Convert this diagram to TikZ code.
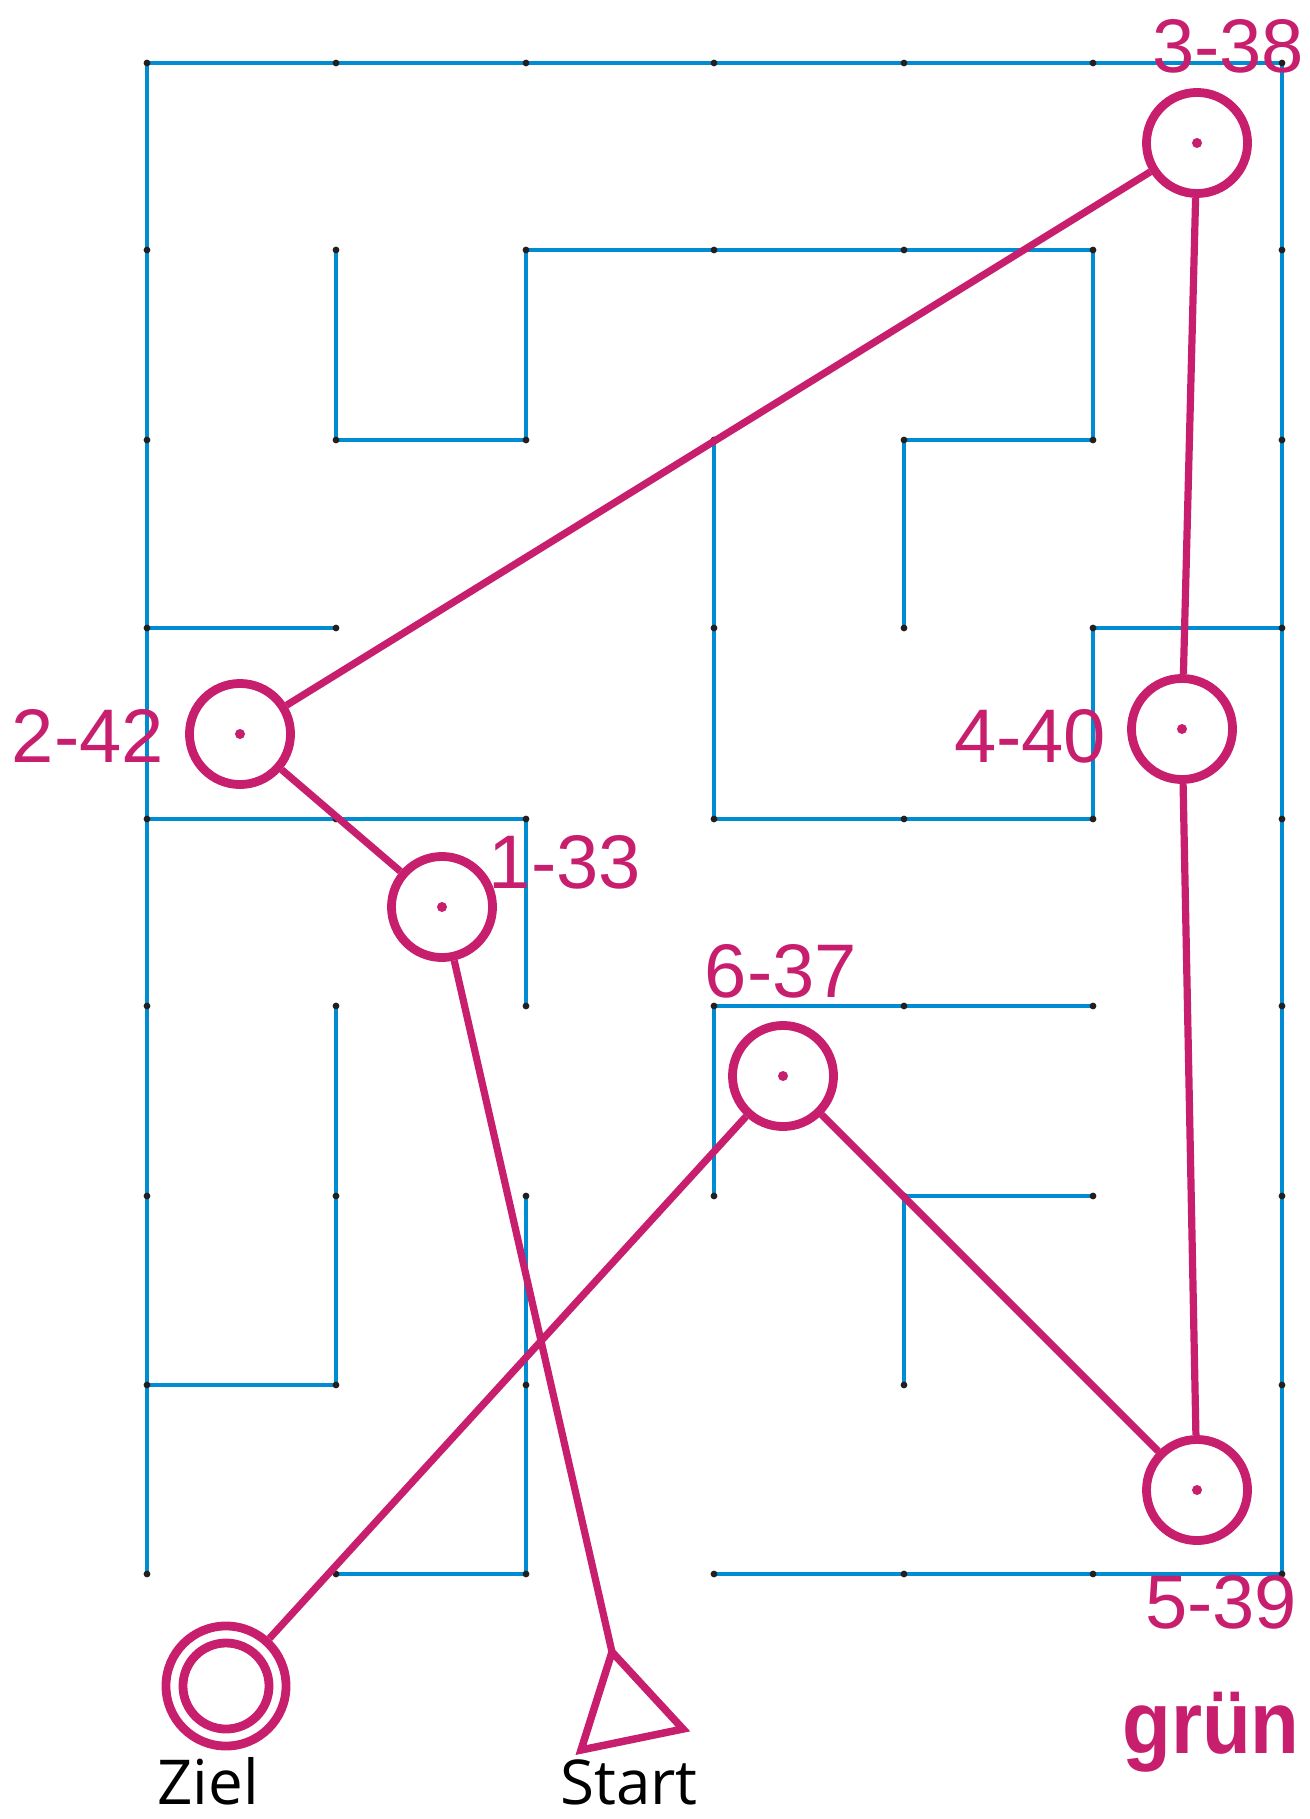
\documentclass[tikz,border=0pt]{standalone}
\usepackage{fontspec}
\usepackage{graphicx}
\newfontfamily\arialf{Liberation Sans}
\newfontfamily\opensf{Open Sans}
\definecolor{pk}{RGB}{200,30,110}
\definecolor{wb}{RGB}{0,140,210}
\definecolor{dotc}{RGB}{35,31,32}
\tikzset{
  wall/.style={draw=wb, line width=0.9pt, line cap=round},
  gdot/.style={fill=dotc},
  ring/.style={circle, draw=pk, line width=0.088cm, minimum size=1.01cm, inner sep=0pt},
  route/.style={draw=pk, line width=0.072cm},
  lab/.style={text=pk, font={\arialf\fontsize{21.6}{26}\selectfont}, inner sep=0pt, anchor=base},
  blab/.style={text=black, font={\opensf\fontsize{17.6}{21}\selectfont}, inner sep=0pt, anchor=base, text depth=0pt},
}
\begin{document}
\begin{tikzpicture}[x=0.01cm, y=-0.01cm]
\useasboundingbox (0,0) rectangle (1309,1819);
% grid coordinates
\foreach \xx [count=\i from 0] in {147,336,526,714,904,1093,1282} {
  \foreach \yy [count=\j from 0] in {63,250,440,628,819,1006,1196,1385,1574} {
    \coordinate (g\i\j) at (\xx,\yy);
  }
}
% walls
\draw[wall] (g00) -- (g60) -- (g68);
\draw[wall] (g00) -- (g08);
\draw[wall] (g18) -- (g28) -- (g26);
\draw[wall] (g07) -- (g17) -- (g15);
\draw[wall] (g03) -- (g13);
\draw[wall] (g04) -- (g24) -- (g25);
\draw[wall] (g11) -- (g12) -- (g22) -- (g21) -- (g51) -- (g52) -- (g42) -- (g43);
\draw[wall] (g32) -- (g34) -- (g54) -- (g53) -- (g63);
\draw[wall] (g36) -- (g35) -- (g55);
\draw[wall] (g47) -- (g46) -- (g56);
\draw[wall] (g38) -- (g68);
% dots (all grid points except three)
\foreach \i in {0,...,6} {
  \foreach \j in {0,...,8} {
    \ifnum\numexpr\i*10+\j\relax=37 \else
    \ifnum\numexpr\i*10+\j\relax=57 \else
    \ifnum\numexpr\i*10+\j\relax=23 \else
      \fill[gdot] (g\i\j) circle[radius=0.034cm];
    \fi\fi\fi
  }
}
% nodes
\node[ring] (c338) at (1197,143) {};
\node[ring] (c242) at (240,734) {};
\node[ring] (c133) at (442,907) {};
\node[ring] (c440) at (1182,729) {};
\node[ring] (c637) at (783,1076) {};
\node[ring] (c539) at (1197,1490) {};
\node[ring, minimum size=1.2cm] (ziel) at (226,1686) {};
\coordinate (start) at (612,1652);
\coordinate (startR) at (683,1729);
\coordinate (startL) at (581,1750);
% centre dots
\foreach \n in {c338,c242,c133,c440,c637,c539}
  \fill[pk] (\n.center) circle[radius=0.05cm];
\draw[pk, line width=0.088cm] (ziel.center) circle[radius=0.43cm];
\draw[pk, line width=0.075cm, line join=miter] (start) -- (startR) -- (startL) -- cycle;
% route
\draw[route] (c338) -- (c242);
\draw[route] (c338) -- (c440);
\draw[route] (c242) -- (c133);
\draw[route] (c133) -- (start);
\draw[route] (c440) -- (c539);
\draw[route] (c539) -- (c637);
\draw[route] (c637) -- (ziel);
% labels
\node[lab] (l338) at (1228,73) {3-38};
\node[lab] (l242) at (88,762) {2-42};
\node[lab] (l133) at (565,888) {1-33};
\node[lab] (l440) at (1030,762) {4-40};
\node[lab] (l637) at (781,997) {6-37};
\node[lab] (l539) at (1221,1628) {5-39};
\node[text=pk, inner sep=0pt, anchor=base, font={\arialf\bfseries\fontsize{25.2}{30}\selectfont}] (gruen) at (1211,1753) {\scalebox{0.9}[1]{grün}};
\node[blab] (lziel) at (208,1804) {Ziel};
\node[blab] (lstart) at (629,1804) {Start};
\end{tikzpicture}
\end{document}
